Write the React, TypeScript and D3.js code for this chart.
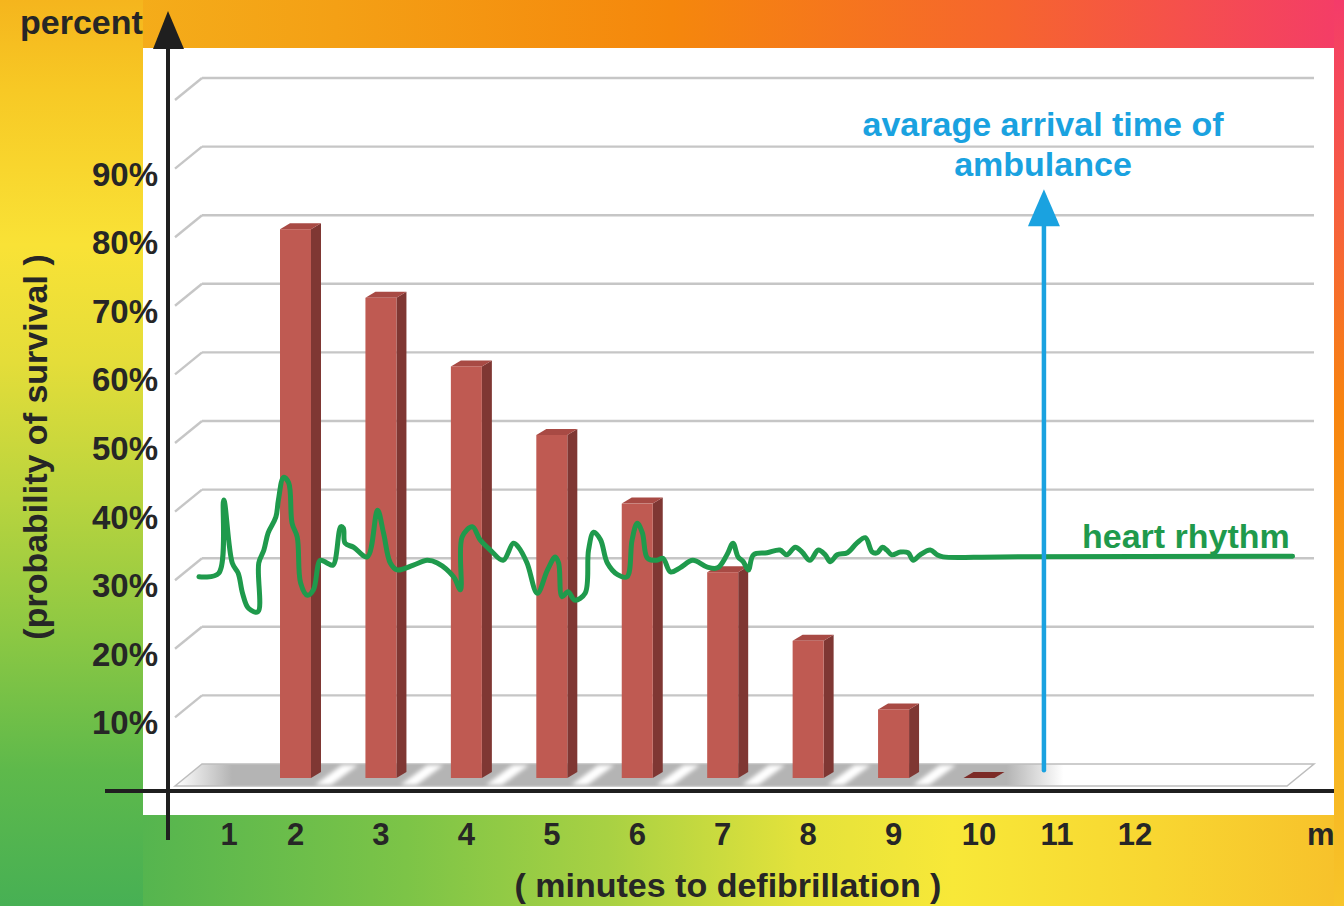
import React from "react";
import * as d3 from "d3";

const W = 1344;
const H = 906;

// ---- data ----
const minutes = [2, 3, 4, 5, 6, 7, 8, 9, 10];
const survival = [80, 70, 60, 50, 40, 30, 20, 10, 0];
const xTickValues = [1, 2, 3, 4, 5, 6, 7, 8, 9, 10, 11, 12];
const yTickValues = [10, 20, 30, 40, 50, 60, 70, 80, 90];
const gridValues = [10, 20, 30, 40, 50, 60, 70, 80, 90, 100];
const ambulanceMinute = 10.76;
const ambulanceFrom = 2.3;
const ambulanceTo = 87;
// heart rhythm trace: [minute, percent]
const rhythm: [number, number][] = [
  [0.87, 30.5], [1.1, 31.0], [1.16, 41.7], [1.26, 32.5], [1.33, 31.0], [1.38, 28.1],
  [1.45, 25.9], [1.56, 25.4], [1.57, 32.5], [1.63, 34.4], [1.68, 36.9], [1.77, 39.2],
  [1.8, 41.7], [1.86, 45.0], [1.92, 44.2], [1.96, 38.3], [2.02, 36.3], [2.06, 29.6],
  [2.14, 27.8], [2.21, 28.6], [2.29, 32.9], [2.37, 32.5], [2.44, 32.2], [2.53, 37.8],
  [2.56, 37.6], [2.58, 35.4], [2.68, 34.8], [2.84, 33.4], [2.96, 40.2], [3.03, 36.9],
  [3.11, 32.5], [3.19, 31.5], [3.38, 32.2], [3.54, 32.9], [3.66, 32.5], [3.85, 30.5],
  [3.93, 28.6], [3.95, 36.3], [4.07, 37.8], [4.16, 35.9], [4.28, 34.4], [4.43, 32.9],
  [4.55, 35.4], [4.61, 34.8], [4.71, 32.5], [4.83, 28.1], [4.95, 31.5], [5.04, 33.4],
  [5.08, 32.5], [5.12, 27.6], [5.19, 28.3], [5.27, 27.1], [5.39, 28.1], [5.43, 34.4],
  [5.49, 37.0], [5.57, 35.9], [5.65, 32.5], [5.77, 30.8], [5.88, 30.5], [5.94, 35.9],
  [6.0, 38.3], [6.06, 36.9], [6.12, 33.2], [6.23, 32.9], [6.3, 33.2], [6.39, 31.2],
  [6.5, 31.8], [6.65, 32.9], [6.82, 31.9], [6.94, 31.8], [7.05, 33.7], [7.12, 35.4],
  [7.18, 33.4], [7.24, 32.7], [7.3, 31.5], [7.36, 33.7], [7.52, 34.0], [7.67, 34.4],
  [7.75, 33.7], [7.85, 34.8], [7.93, 34.1], [8.02, 32.9], [8.12, 34.4], [8.2, 33.7],
  [8.26, 32.7], [8.34, 33.7], [8.46, 34.0], [8.57, 35.4], [8.67, 36.2], [8.75, 34.1],
  [8.81, 34.0], [8.87, 34.8], [8.92, 34.4], [8.98, 33.7], [9.08, 34.1], [9.17, 34.0],
  [9.23, 32.9], [9.31, 33.7], [9.43, 34.4], [9.51, 33.7], [9.58, 33.4], [10.25, 33.4],
  [13.67, 33.5],
];

// ---- scales ----
const xTick = d3.scaleLinear().domain([1, 2, 10, 12]).range([229, 295.5, 979, 1135]);
const xBar = d3.scaleLinear().domain([2, 10]).range([295.5, 979]);
const yFront = d3.scaleLinear().domain([0, 100]).range([786, 100]);
const yBar = d3.scaleLinear().domain([0, 100]).range([778, 92]);

const DEPTH = { dx: 27, dy: -22 };
const BAR_DEPTH = { dx: 10, dy: -6 };
const BAR_W = 31;
const FLOOR_LEFT = 175;
const FLOOR_RIGHT = 1287;
const PANEL = { x: 143, y: 48, x2: 1334, y2: 815 };

const FONT = "'Liberation Sans', Arial, Helvetica, sans-serif";
const TEXT = "#262626";
const GREEN = "#1f9a4c";
const BLUE = "#1aa2e0";

const poly = (pts: [number, number][]) => pts.map((p) => p.join(",")).join(" ");

export default function App() {
  const rhythmLine = d3
    .line<[number, number]>()
    .x((d) => xBar(d[0]))
    .y((d) => yFront(d[1]))
    .curve(d3.curveCatmullRom.alpha(0.5));

  const floorFront = yFront(0);
  const floorBack = floorFront + DEPTH.dy;

  const arrowX = xBar(ambulanceMinute);
  const arrowTip = yFront(ambulanceTo);
  const arrowBottom = yFront(ambulanceFrom);

  return (
    <svg
      width={W}
      height={H}
      viewBox={`0 0 ${W} ${H}`}
      style={{ position: "absolute", left: 0, top: 0, display: "block" }}
      fontFamily={FONT}
    >
      <defs>
        <linearGradient id="gTop" gradientUnits="userSpaceOnUse" x1={0} y1={0} x2={W} y2={0}>
          <stop offset="0" stopColor="#f5b51d" />
          <stop offset="0.25" stopColor="#f4a015" />
          <stop offset="0.5" stopColor="#f5870c" />
          <stop offset="0.75" stopColor="#f6652e" />
          <stop offset="1" stopColor="#f43c68" />
        </linearGradient>
        <linearGradient id="gLeft" gradientUnits="userSpaceOnUse" x1={0} y1={0} x2={0} y2={H}>
          <stop offset="0" stopColor="#f5b51d" />
          <stop offset="0.1" stopColor="#f7c925" />
          <stop offset="0.27" stopColor="#f9e236" />
          <stop offset="0.4" stopColor="#e4dd39" />
          <stop offset="0.55" stopColor="#b9d43e" />
          <stop offset="0.7" stopColor="#8cc843" />
          <stop offset="0.85" stopColor="#5eb94b" />
          <stop offset="1" stopColor="#47b054" />
        </linearGradient>
        <linearGradient id="gBottom" gradientUnits="userSpaceOnUse" x1={143} y1={0} x2={1334} y2={0}>
          <stop offset="0" stopColor="#55b54f" />
          <stop offset="0.22" stopColor="#7cc447" />
          <stop offset="0.39" stopColor="#a8d143" />
          <stop offset="0.55" stopColor="#e3e23b" />
          <stop offset="0.68" stopColor="#f8e838" />
          <stop offset="0.85" stopColor="#f8d631" />
          <stop offset="1" stopColor="#f7c22b" />
        </linearGradient>
        <linearGradient id="gRight" gradientUnits="userSpaceOnUse" x1={0} y1={0} x2={0} y2={H}>
          <stop offset="0" stopColor="#f43b6a" />
          <stop offset="0.2" stopColor="#f65a45" />
          <stop offset="0.45" stopColor="#f7840f" />
          <stop offset="0.7" stopColor="#f7a51a" />
          <stop offset="1" stopColor="#f7c52a" />
        </linearGradient>
        <linearGradient
          id="gFloor"
          gradientUnits="userSpaceOnUse"
          x1={FLOOR_LEFT}
          y1={0}
          x2={FLOOR_RIGHT + DEPTH.dx}
          y2={0}
        >
          <stop offset="0" stopColor="#ffffff" />
          <stop offset="0.05" stopColor="#b4b4b4" />
          <stop offset="0.73" stopColor="#b4b4b4" />
          <stop offset="0.78" stopColor="#ffffff" />
          <stop offset="1" stopColor="#ffffff" />
        </linearGradient>
        <filter id="soft" x="-50%" y="-50%" width="200%" height="200%">
          <feGaussianBlur stdDeviation="2" />
        </filter>
      </defs>

      {/* background frame */}
      <rect x={0} y={0} width={W} height={PANEL.y} fill="url(#gTop)" />
      <rect x={PANEL.x} y={PANEL.y2} width={PANEL.x2 - PANEL.x} height={H - PANEL.y2} fill="url(#gBottom)" />
      <rect x={0} y={0} width={PANEL.x} height={H} fill="url(#gLeft)" />

      {/* white panel */}
      <rect x={PANEL.x} y={PANEL.y} width={PANEL.x2 - PANEL.x} height={PANEL.y2 - PANEL.y} fill="#ffffff" />

      {/* back wall gridlines */}
      <g stroke="#c6c6c6" strokeWidth={2.4} fill="none">
        {gridValues.map((v) => (
          <g key={v}>
            <line
              x1={FLOOR_LEFT + DEPTH.dx}
              x2={FLOOR_RIGHT + DEPTH.dx}
              y1={yFront(v) + DEPTH.dy}
              y2={yFront(v) + DEPTH.dy}
            />
            <line
              x1={FLOOR_LEFT}
              y1={yFront(v)}
              x2={FLOOR_LEFT + DEPTH.dx}
              y2={yFront(v) + DEPTH.dy}
            />
          </g>
        ))}
      </g>

      {/* floor */}
      <polygon
        points={poly([
          [FLOOR_LEFT, floorFront],
          [FLOOR_LEFT + DEPTH.dx, floorBack],
          [FLOOR_RIGHT + DEPTH.dx, floorBack],
          [FLOOR_RIGHT, floorFront],
        ])}
        fill="url(#gFloor)"
        stroke="#bdbdbd"
        strokeWidth={1.5}
      />
      <g fill="#ffffff" filter="url(#soft)">
        {minutes
          .filter((m) => m < 10)
          .map((m) => {
            const x0 = xBar(m) + BAR_W / 2 + 4;
            const x1 = x0 + 16;
            return (
              <polygon
                key={m}
                points={poly([
                  [x0, floorFront - 1],
                  [x1, floorFront - 1],
                  [x1 + DEPTH.dx, floorBack + 1],
                  [x0 + DEPTH.dx, floorBack + 1],
                ])}
              />
            );
          })}
      </g>

      {/* bars */}
      {minutes.map((m, i) => {
        const v = survival[i];
        const xl = xBar(m) - BAR_W / 2;
        const xr = xl + BAR_W;
        const yb = yBar(0);
        const yt = yBar(v);
        const { dx, dy } = BAR_DEPTH;
        if (v === 0) {
          return (
            <polygon
              key={m}
              points={poly([
                [xl, yt],
                [xr, yt],
                [xr + dx, yt + dy],
                [xl + dx, yt + dy],
              ])}
              fill="#7c2b27"
            />
          );
        }
        return (
          <g key={m}>
            <polygon
              points={poly([
                [xr, yb],
                [xr, yt],
                [xr + dx, yt + dy],
                [xr + dx, yb + dy],
              ])}
              fill="#7f3733"
            />
            <polygon
              points={poly([
                [xl, yt],
                [xr, yt],
                [xr + dx, yt + dy],
                [xl + dx, yt + dy],
              ])}
              fill="#a84a44"
            />
            <rect x={xl} y={yt} width={BAR_W} height={yb - yt} fill="#bf5a52" />
          </g>
        );
      })}

      {/* heart rhythm */}
      <path
        d={rhythmLine(rhythm) || ""}
        fill="none"
        stroke={GREEN}
        strokeWidth={5}
        strokeLinejoin="round"
        strokeLinecap="round"
      />
      <text x={1082} y={548} fontSize={34} fontWeight="bold" fill={GREEN}>
        heart rhythm
      </text>

      {/* ambulance arrow */}
      <line x1={arrowX} x2={arrowX} y1={arrowBottom} y2={arrowTip + 34} stroke={BLUE} strokeWidth={4.5} strokeLinecap="round" />
      <polygon
        points={poly([
          [arrowX, arrowTip],
          [arrowX - 16, arrowTip + 37],
          [arrowX + 16, arrowTip + 37],
        ])}
        fill={BLUE}
      />
      <g fontSize={34} fontWeight="bold" fill={BLUE} textAnchor="middle">
        <text x={1043} y={136}>avarage arrival time of</text>
        <text x={1043} y={176}>ambulance</text>
      </g>

      {/* axes */}
      <line x1={105} x2={PANEL.x2} y1={791} y2={791} stroke="#1f1f1f" strokeWidth={4} />
      <line x1={168} x2={168} y1={40} y2={840} stroke="#1f1f1f" strokeWidth={4} />
      <polygon points={poly([[168, 11], [153, 49], [184, 49]])} fill="#1f1f1f" />

      {/* y tick labels */}
      <g fontSize={33} fontWeight="bold" fill={TEXT} textAnchor="end">
        {yTickValues.map((v) => (
          <text key={v} x={158} y={yFront(v) + 17}>
            {`${v}%`}
          </text>
        ))}
      </g>

      {/* x tick labels */}
      <g fontSize={31} fontWeight="bold" fill={TEXT} textAnchor="middle">
        {xTickValues.map((m) => (
          <text key={m} x={xTick(m)} y={845}>
            {m}
          </text>
        ))}
      </g>
      <text x={1307} y={845} fontSize={31} fontWeight="bold" fill={TEXT}>
        m
      </text>

      {/* titles */}
      <text x={20} y={34} fontSize={34} fontWeight="bold" fill={TEXT}>
        percent
      </text>
      <text x={728} y={897} fontSize={34} fontWeight="bold" fill={TEXT} textAnchor="middle">
        ( minutes to defibrillation )
      </text>
      <text
        transform="translate(47,447) rotate(-90)"
        fontSize={34}
        fontWeight="bold"
        fill={TEXT}
        textAnchor="middle"
      >
        (probability of survival )
      </text>

      {/* right border strip */}
      <rect x={PANEL.x2} y={0} width={W - PANEL.x2} height={H} fill="url(#gRight)" />
    </svg>
  );
}
